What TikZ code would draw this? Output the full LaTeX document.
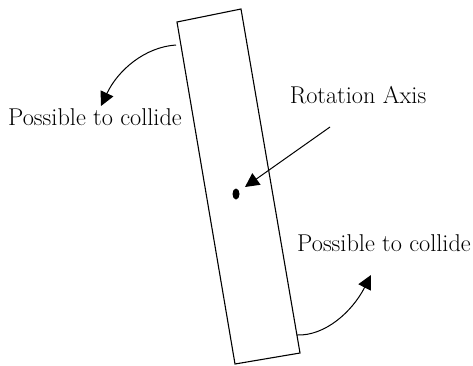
\documentclass[tikz,border=0pt]{standalone}
\usepackage{tikz}
\usetikzlibrary{arrows.meta,positioning,shapes.geometric}
\begin{document}
\begin{tikzpicture}[
  x=1pt,y=-1pt,
  lbl/.style={inner sep=0pt,font=\fontsize{24.3}{28}\selectfont},
  arr/.style={-{Triangle[length=14pt,width=14pt]},line width=1pt}
]
\useasboundingbox (0,0) rectangle (473,365);
\draw[line width=1.1pt] (177,22) -- (241,9) -- (300,353) -- (235,364) -- cycle;
\node[fill=black,ellipse,inner sep=0pt,minimum width=7pt,minimum height=11pt] (axis) at (236,194) {};
\node[lbl] (rot) at (358,95) {Rotation Axis};
\node[lbl] (left) at (95,117) {Possible to collide};
\node[lbl] (right) at (384,243) {Possible to collide};
\coordinate (axisstart) at (330,127);
\coordinate (axistip) at (245,187);
\coordinate (leftstart) at (176,45);
\coordinate (rightstart) at (297,335);
\coordinate (lefttip) at (101,106);
\coordinate (righttip) at (371,275);
\draw[arr] (axisstart) -- (axistip);
\draw[arr] (leftstart) .. controls (145,47) and (118,70) .. (lefttip);
\draw[arr] (rightstart) .. controls (325,336) and (352,312) .. (righttip);
\end{tikzpicture}
\end{document}
